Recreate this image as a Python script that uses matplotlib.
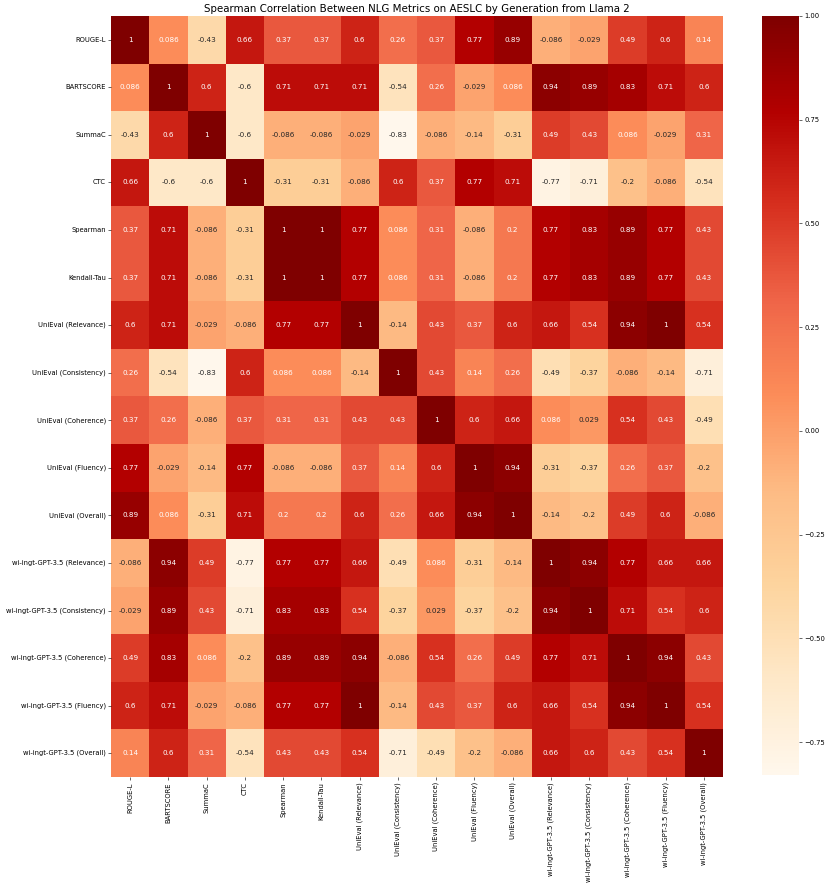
import matplotlib
matplotlib.use('Agg')
import matplotlib.pyplot as plt
import numpy as np
import pandas as pd
import seaborn as sns

labels = ['ROUGE-L', 'BARTSCORE', 'SummaC', 'CTC', 'Spearman', 'Kendall-Tau',
          'UniEval (Relevance)', 'UniEval (Consistency)', 'UniEval (Coherence)',
          'UniEval (Fluency)', 'UniEval (Overall)',
          'wi-ingt-GPT-3.5 (Relevance)', 'wi-ingt-GPT-3.5 (Consistency)',
          'wi-ingt-GPT-3.5 (Coherence)', 'wi-ingt-GPT-3.5 (Fluency)',
          'wi-ingt-GPT-3.5 (Overall)']

# correlation values as shown in the cells
rouge_l     = [1, 0.086, -0.43, 0.66, 0.37, 0.37, 0.6, 0.26, 0.37, 0.77, 0.89, -0.086, -0.029, 0.49, 0.6, 0.14]
bartscore   = [0.086, 1, 0.6, -0.6, 0.71, 0.71, 0.71, -0.54, 0.26, -0.029, 0.086, 0.94, 0.89, 0.83, 0.71, 0.6]
summac      = [-0.43, 0.6, 1, -0.6, -0.086, -0.086, -0.029, -0.83, -0.086, -0.14, -0.31, 0.49, 0.43, 0.086, -0.029, 0.31]
ctc         = [0.66, -0.6, -0.6, 1, -0.31, -0.31, -0.086, 0.6, 0.37, 0.77, 0.71, -0.77, -0.71, -0.2, -0.086, -0.54]
spearman    = [0.37, 0.71, -0.086, -0.31, 1, 1, 0.77, 0.086, 0.31, -0.086, 0.2, 0.77, 0.83, 0.89, 0.77, 0.43]
kendall     = [0.37, 0.71, -0.086, -0.31, 1, 1, 0.77, 0.086, 0.31, -0.086, 0.2, 0.77, 0.83, 0.89, 0.77, 0.43]
uni_rel     = [0.6, 0.71, -0.029, -0.086, 0.77, 0.77, 1, -0.14, 0.43, 0.37, 0.6, 0.66, 0.54, 0.94, 1, 0.54]
uni_cons    = [0.26, -0.54, -0.83, 0.6, 0.086, 0.086, -0.14, 1, 0.43, 0.14, 0.26, -0.49, -0.37, -0.086, -0.14, -0.71]
uni_coh     = [0.37, 0.26, -0.086, 0.37, 0.31, 0.31, 0.43, 0.43, 1, 0.6, 0.66, 0.086, 0.029, 0.54, 0.43, -0.49]
uni_flu     = [0.77, -0.029, -0.14, 0.77, -0.086, -0.086, 0.37, 0.14, 0.6, 1, 0.94, -0.31, -0.37, 0.26, 0.37, -0.2]
uni_all     = [0.89, 0.086, -0.31, 0.71, 0.2, 0.2, 0.6, 0.26, 0.66, 0.94, 1, -0.14, -0.2, 0.49, 0.6, -0.086]
gpt_rel     = [-0.086, 0.94, 0.49, -0.77, 0.77, 0.77, 0.66, -0.49, 0.086, -0.31, -0.14, 1, 0.94, 0.77, 0.66, 0.66]
gpt_cons    = [-0.029, 0.89, 0.43, -0.71, 0.83, 0.83, 0.54, -0.37, 0.029, -0.37, -0.2, 0.94, 1, 0.71, 0.54, 0.6]
gpt_coh     = [0.49, 0.83, 0.086, -0.2, 0.89, 0.89, 0.94, -0.086, 0.54, 0.26, 0.49, 0.77, 0.71, 1, 0.94, 0.43]
gpt_flu     = [0.6, 0.71, -0.029, -0.086, 0.77, 0.77, 1, -0.14, 0.43, 0.37, 0.6, 0.66, 0.54, 0.94, 1, 0.54]
gpt_all     = [0.14, 0.6, 0.31, -0.54, 0.43, 0.43, 0.54, -0.71, -0.49, -0.2, -0.086, 0.66, 0.6, 0.43, 0.54, 1]

rows = [rouge_l, bartscore, summac, ctc, spearman, kendall, uni_rel, uni_cons,
        uni_coh, uni_flu, uni_all, gpt_rel, gpt_cons, gpt_coh, gpt_flu, gpt_all]
corr = pd.DataFrame(np.array(rows), index=labels, columns=labels)

fig = plt.figure(figsize=(831 / 52, 888 / 52), dpi=52)
ax = fig.add_axes([0.1336, 0.125, 0.7365, 0.857])
cax = fig.add_axes([0.917, 0.127, 0.0445, 0.855])

sns.heatmap(corr, annot=True, cmap='OrRd', ax=ax, cbar_ax=cax,
            annot_kws={'size': 10})
ax.tick_params(labelsize=9.3)
cax.tick_params(labelsize=9.3)
ax.set_title('Spearman Correlation Between NLG Metrics on AESLC by Generation from Llama 2',
             fontsize=14.2)

plt.savefig('out.png', dpi=52)
